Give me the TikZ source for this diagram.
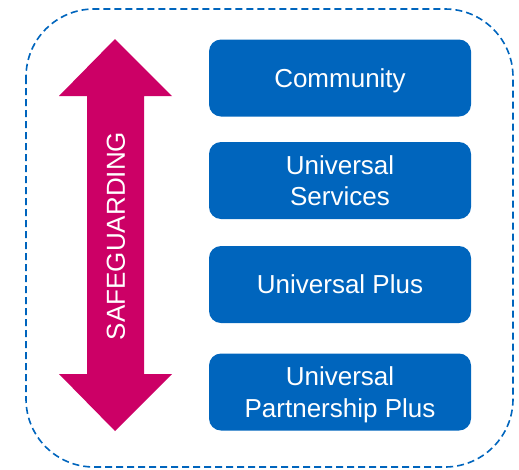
\documentclass[tikz,border=0pt]{standalone}
\usepackage{fontspec}
\setmainfont{Liberation Sans}
\definecolor{boxblue}{RGB}{0,101,189}
\definecolor{safemag}{RGB}{204,0,102}
\begin{document}
\begin{tikzpicture}[x=1pt,y=-1pt,
  tier/.style={fill=boxblue, rounded corners=12pt, minimum width=262pt, minimum height=77pt,
    text=white, font=\fontsize{26}{31.5}\selectfont, align=center, inner sep=0pt, text depth=0pt},
  frame/.style={draw=boxblue, line width=1.6pt, dash pattern=on 7pt off 4pt, rounded corners=68pt}]
\useasboundingbox (0,0) rectangle (519,469);
\draw[frame] (26,9) rectangle (513,467);
\fill[safemag] (115,39) -- (172,96) -- (144,96) -- (144,374) -- (172,374) -- (115,431)
  -- (59,374) -- (87,374) -- (87,96) -- (59,96) -- cycle;
\node[text=white, rotate=90, font=\fontsize{26}{31}\selectfont, inner sep=0pt] (safe) at (116,236) {SAFEGUARDING};
\node[tier] (comm) at (340,78) {Community};
\node[tier] (us) at (340,180.5) {Universal\\Services};
\node[tier] (up) at (340,284.5) {Universal Plus};
\node[tier] (upp) at (340,392) {Universal\\Partnership Plus};
\end{tikzpicture}
\end{document}
